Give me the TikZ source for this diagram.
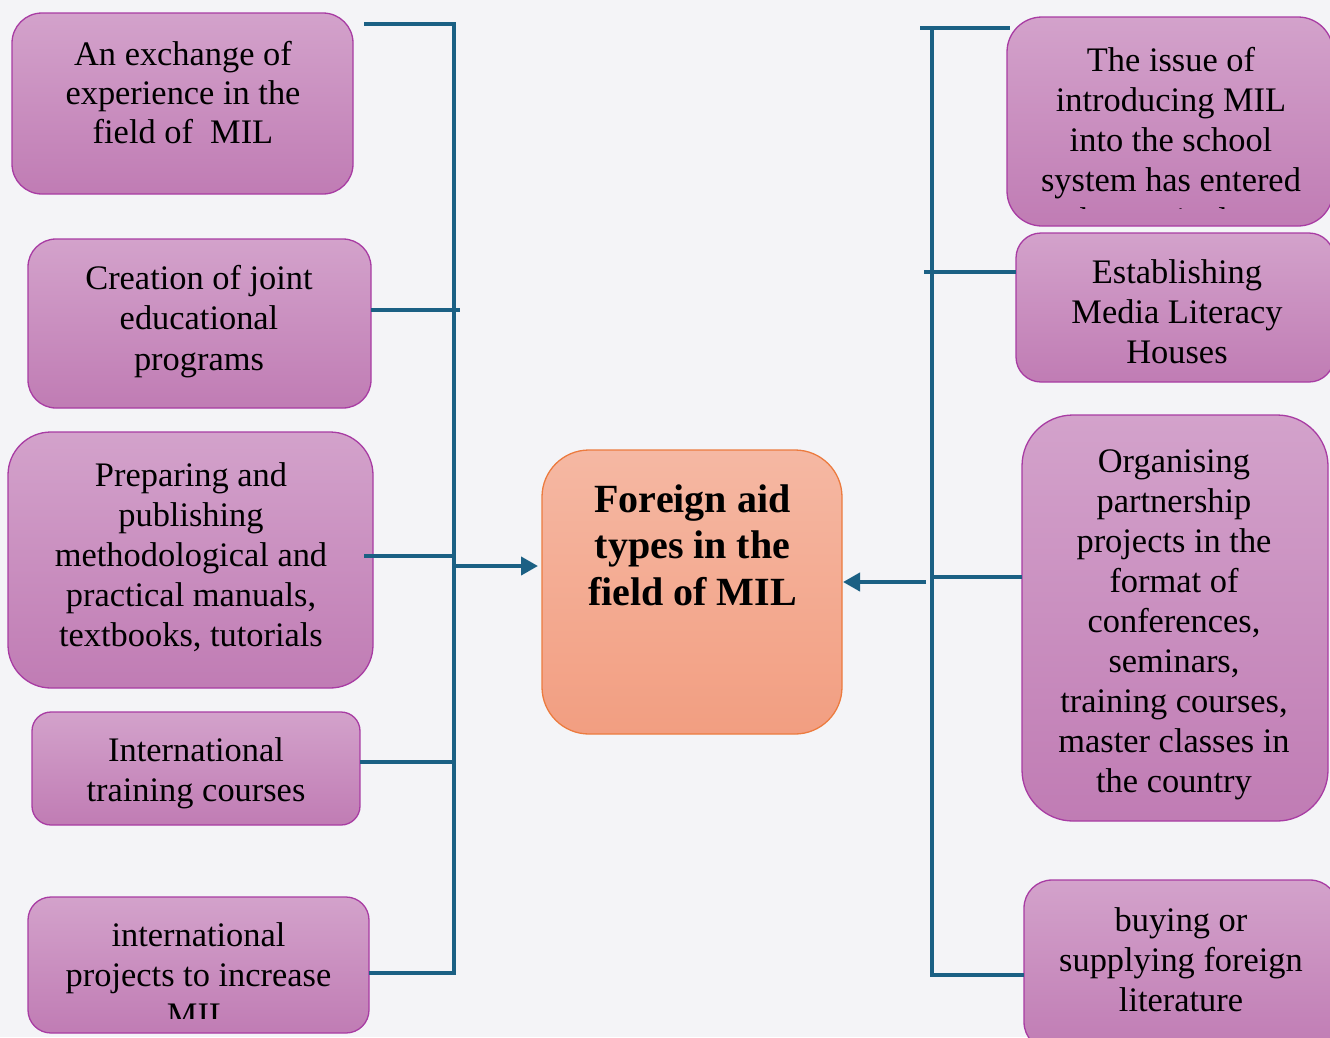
\documentclass[tikz,border=0pt]{standalone}
\usepackage{fontspec}
\setmainfont{Liberation Serif}
\usetikzlibrary{arrows.meta}
\definecolor{bg}{HTML}{F4F4F7}
\definecolor{ptop}{HTML}{D3A2CB}
\definecolor{pbot}{HTML}{C07CB4}
\definecolor{pborder}{HTML}{A83CA3}
\definecolor{ctop}{HTML}{F5B8A3}
\definecolor{cbot}{HTML}{F29E81}
\definecolor{cborder}{HTML}{EC7B3F}
\definecolor{lineblue}{HTML}{1B6084}
\newcommand\boxtext[3]{{\fontsize{#1}{#2}\selectfont\setlength{\tabcolsep}{0pt}\begin{tabular}[t]{c}#3\end{tabular}}}
\tikzset{
  pbox/.style={draw=pborder, line width=1.3pt, top color=ptop, bottom color=pbot, inner sep=0pt, outer sep=0pt},
  cbox/.style={draw=cborder, line width=1.3pt, top color=ctop, bottom color=cbot, inner sep=0pt, outer sep=0pt},
  txt/.style={anchor=base, inner sep=0pt, text=black},
  conn/.style={draw=lineblue, line width=4pt},
  arr/.style={conn, -{Triangle[length=17pt,width=18pt]}}
}
\begin{document}
\begin{tikzpicture}[x=1pt,y=-1pt]
\clip (0,0) rectangle (1330,1037);
\fill[bg] (0,0) rectangle (1330,1037);

% left boxes
\node[pbox, minimum width=341pt, minimum height=181pt, rounded corners=30pt] (L1) at (182.5,103.5) {};
\node[pbox, minimum width=343pt, minimum height=169pt, rounded corners=28pt] (L2) at (199.5,323.5) {};
\node[pbox, minimum width=365pt, minimum height=256pt, rounded corners=43pt] (L3) at (190.5,560) {};
\node[pbox, minimum width=328pt, minimum height=113pt, rounded corners=19pt] (L4) at (196,768.5) {};
\node[pbox, minimum width=341pt, minimum height=136pt, rounded corners=23pt] (L5) at (198.5,965) {};
% centre box
\node[cbox, minimum width=300pt, minimum height=284pt, rounded corners=47pt] (C) at (692,592) {};
% right boxes
\node[pbox, minimum width=326pt, minimum height=209pt, rounded corners=35pt] (R1) at (1170,121.5) {};
\node[pbox, minimum width=318pt, minimum height=149pt, rounded corners=25pt] (R2) at (1175,307.5) {};
\node[pbox, minimum width=306pt, minimum height=406pt, rounded corners=51pt] (R3) at (1175,618) {};
\node[pbox, minimum width=314pt, minimum height=170pt, rounded corners=28pt] (R4) at (1181,965) {};

% texts
\node[txt] (L1t) at (183,65) {\boxtext{34.4}{39}{An exchange of\\experience in the\\field of~~MIL}};
\node[txt] (L2t) at (199,289) {\boxtext{34.4}{40.5}{Creation of joint\\educational\\programs}};
\node[txt] (L3t) at (191,486) {\boxtext{34.4}{40}{Preparing and\\publishing\\methodological and\\practical manuals,\\textbooks, tutorials}};
\node[txt] (L4t) at (196,761) {\boxtext{34.4}{40}{International\\training courses}};
\begin{scope}
\clip (28,897) rectangle (369,1018);
\node[txt] (L5t) at (198.5,946) {\boxtext{34.4}{40}{international\\projects to increase\\MIL}};
\end{scope}
\node[txt] (Ct) at (692.5,512) {\boxtext{40}{46.5}{\bfseries Foreign aid\\\bfseries types in the\\\bfseries field of MIL}};
\begin{scope}
\clip (1007,17) rectangle (1332,208);
\node[txt] (R1t) at (1171,71) {\boxtext{34.4}{40}{The issue of\\introducing MIL\\into the school\\system has entered\\the curriculum}};
\end{scope}
\node[txt] (R2t) at (1177,283) {\boxtext{34.4}{40}{Establishing\\Media Literacy\\Houses}};
\node[txt] (R3t) at (1174,472) {\boxtext{34.4}{40}{Organising\\partnership\\projects in the\\format of\\conferences,\\seminars,\\training courses,\\master classes in\\the country}};
\node[txt] (R4t) at (1181,931) {\boxtext{34.4}{40}{buying or\\supplying foreign\\literature}};

% left connectors
\coordinate (LT) at (454,24);
\coordinate (LB) at (454,973);
\coordinate (L1e) at (364,24);
\coordinate (L3e) at (364,556);
\draw[conn] (L1e) -- (LT) -- (LB) -- (L5.east |- LB);
\draw[conn] (L2.east |- 0,310) -- (460,310);
\draw[conn] (L3e) -- (LT |- L3e);
\draw[conn] (L4.east |- 0,762) -- (LT |- 0,762);
\coordinate (LA) at (454,566);
\draw[arr] (LA) -- ([xshift=-4pt]C.west |- LA);

% right connectors
\coordinate (RT) at (932,28);
\coordinate (RB) at (932,975);
\coordinate (R1e) at (1010,28);
\draw[conn] (920,28) -- (R1e);
\draw[conn] (932,26) -- (RB) -- (R4.west |- RB);
\draw[conn] (924,272) -- (R2.west |- 0,272);
\draw[conn] (RT |- 0,577) -- (R3.west |- 0,577);
\coordinate (RA) at (926,582);
\draw[arr] (RA) -- ([xshift=1pt]C.east |- RA);
\end{tikzpicture}
\end{document}
